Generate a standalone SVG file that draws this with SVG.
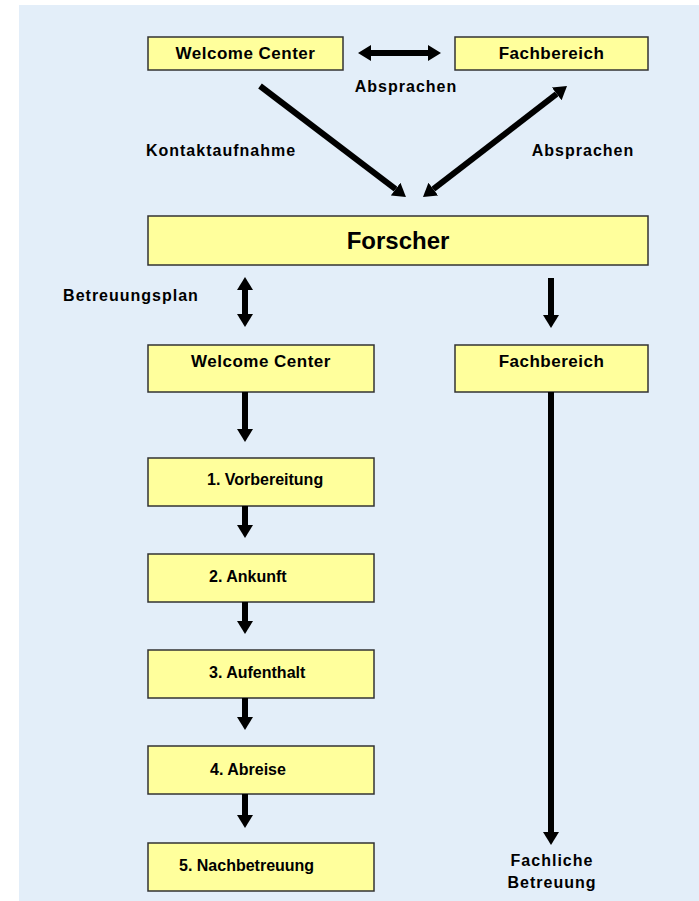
<svg xmlns="http://www.w3.org/2000/svg" width="699" height="901" viewBox="0 0 699 901">
<style>
.box{fill:#FFFF9C;stroke:#333;stroke-width:1.5}
.t{font-family:"Liberation Sans",Arial,sans-serif;font-weight:bold;fill:#000;text-anchor:middle}
.big{font-size:17px;letter-spacing:0.5px}
.num{font-size:16px;text-anchor:start}
.lbl{font-size:16px;letter-spacing:1px}
.ar{stroke:#000;stroke-width:6;fill:none}
</style>
<defs>
<marker id="ah" markerUnits="userSpaceOnUse" viewBox="0 -8 13 16" markerWidth="13" markerHeight="16" refX="0" refY="0" orient="auto-start-reverse">
<path d="M0,-8 L13,0 L0,8 z" fill="#000"/>
</marker>
</defs>
<rect x="19" y="5" width="680" height="896" fill="#E3EEF9"/>

<g id="wc-top"><rect class="box" x="148" y="37" width="195" height="33"/><text class="t big" x="245.5" y="59">Welcome Center</text></g>
<g id="fb-top"><rect class="box" x="455" y="37" width="193" height="33"/><text class="t big" x="551.5" y="59">Fachbereich</text></g>
<g id="forscher"><rect class="box" x="148" y="216" width="500" height="49"/><text class="t" style="font-size:24px" x="398" y="249">Forscher</text></g>
<g id="wc2"><rect class="box" x="148" y="345" width="226" height="47"/><text class="t big" x="261" y="367">Welcome Center</text></g>
<g id="fb2"><rect class="box" x="455" y="345" width="193" height="47"/><text class="t big" x="551.5" y="367">Fachbereich</text></g>
<g id="s1"><rect class="box" x="148" y="458" width="226" height="48"/><text class="t num" x="207" y="485">1. Vorbereitung</text></g>
<g id="s2"><rect class="box" x="148" y="554" width="226" height="48"/><text class="t num" x="209" y="582">2. Ankunft</text></g>
<g id="s3"><rect class="box" x="148" y="650" width="226" height="48"/><text class="t num" x="209" y="678">3. Aufenthalt</text></g>
<g id="s4"><rect class="box" x="148" y="746" width="226" height="48"/><text class="t num" x="210" y="775">4. Abreise</text></g>
<g id="s5"><rect class="box" x="148" y="843" width="226" height="48"/><text class="t num" x="179" y="871">5. Nachbetreuung</text></g>

<g id="connectors">
<line class="ar" x1="371" y1="53" x2="428" y2="53" marker-start="url(#ah)" marker-end="url(#ah)"/>
<line class="ar" x1="260" y1="86" x2="395.6" y2="189.1" marker-end="url(#ah)"/>
<line class="ar" x1="433.3" y1="189.1" x2="556.7" y2="93.9" marker-start="url(#ah)" marker-end="url(#ah)"/>
<line class="ar" x1="245" y1="290" x2="245" y2="314" marker-start="url(#ah)" marker-end="url(#ah)"/>
<line class="ar" x1="551" y1="278" x2="551" y2="315" marker-end="url(#ah)"/>
<line class="ar" x1="245" y1="392" x2="245" y2="429" marker-end="url(#ah)"/>
<line class="ar" x1="245" y1="506" x2="245" y2="525" marker-end="url(#ah)"/>
<line class="ar" x1="245" y1="602" x2="245" y2="621" marker-end="url(#ah)"/>
<line class="ar" x1="245" y1="698" x2="245" y2="717" marker-end="url(#ah)"/>
<line class="ar" x1="245" y1="794" x2="245" y2="815" marker-end="url(#ah)"/>
<line class="ar" x1="551" y1="392" x2="551" y2="832" marker-end="url(#ah)"/>
</g>

<g id="labels">
<text class="t lbl" x="406" y="92">Absprachen</text>
<text class="t lbl" x="221" y="156">Kontaktaufnahme</text>
<text class="t lbl" x="583" y="156">Absprachen</text>
<text class="t lbl" x="131" y="301">Betreuungsplan</text>
<text class="t lbl" x="552" y="866">Fachliche</text>
<text class="t lbl" x="552" y="888">Betreuung</text>
</g>
</svg>
